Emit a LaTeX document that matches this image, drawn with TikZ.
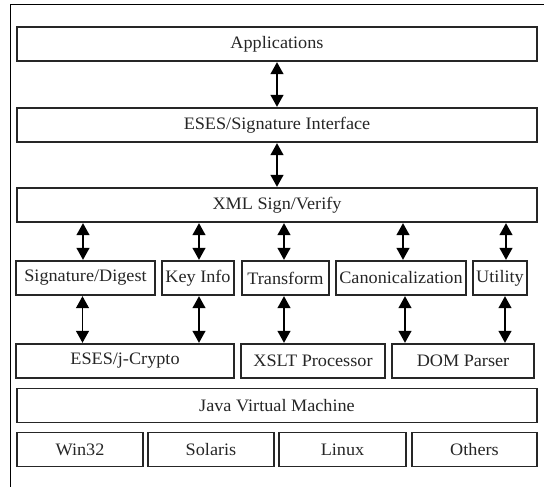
\documentclass[tikz,border=0pt]{standalone}
\usepackage{fontspec}
\setmainfont{Liberation Serif}[FakeStretch=1.04]
\usetikzlibrary{arrows.meta}
\tikzset{
  blk/.style={draw=black!85, line width=1.2pt, inner sep=0pt, minimum height=34pt,
    font=\fontsize{17.5}{20}\selectfont, text=black!85},
  dbl/.style={line width=1.3pt, draw=black,
    {Triangle[width=13pt,length=12pt]}-{Triangle[width=13pt,length=12pt]}, shorten <=0.6pt, shorten >=0.6pt},
  frame/.style={draw=black, line width=1pt}
}
\begin{document}
\begin{tikzpicture}[x=1pt,y=-1pt]
\useasboundingbox (0,0) rectangle (544,487);
\fill[white] (0,0) rectangle (544,487);
\draw[frame] (10.5,487) -- (10.5,4.5) -- (544,4.5);
% top layers
\node[blk, minimum width=520pt] (app)  at (277,44)  {Applications};
\node[blk, minimum width=520pt] (eses) at (277,125) {ESES/Signature Interface};
\node[blk, minimum width=520pt] (xml)  at (277,205) {XML Sign/Verify};
% second row
\node[blk, minimum width=139pt] (sig)   at (85.5,278)  {Signature/Digest};
\node[blk, minimum width=72pt]  (key)   at (198,278)   {Key Info};
\node[blk, minimum width=87pt]  (trans) at (285.5,278) {Transform};
\node[blk, minimum width=130pt] (canon) at (401,278)   {Canonicalization};
\node[blk, minimum width=54pt]  (util)  at (500,278)   {Utility};
% third row
\node[blk, minimum width=218pt] (cryp) at (125,361) {ESES/j-Crypto};
\node[blk, minimum width=144pt] (xslt) at (313,361) {XSLT Processor};
\node[blk, minimum width=142pt] (dom)  at (463,361) {DOM Parser};
% JVM and OS
\node[blk, minimum width=520pt] (jvm) at (277,405.5) {Java Virtual Machine};
\node[blk, minimum width=126pt] (win) at (80,449.5)    {Win32};
\node[blk, minimum width=126pt] (sol) at (211,449.5)   {Solaris};
\node[blk, minimum width=127pt] (lin) at (342.5,449.5) {Linux};
\node[blk, minimum width=125pt] (oth) at (474.5,449.5) {Others};
% connectors
\draw[dbl] (app.south) -- (eses.north);
\draw[dbl] (eses.south) -- (xml.north);
\draw[dbl] ([xshift=-2.5pt]sig.north |- xml.south) -- ([xshift=-2.5pt]sig.north);
\draw[dbl] ([xshift=1pt]key.north |- xml.south) -- ([xshift=1pt]key.north);
\draw[dbl] ([xshift=-1.5pt]trans.north |- xml.south) -- ([xshift=-1.5pt]trans.north);
\draw[dbl] ([xshift=2pt]canon.north |- xml.south) -- ([xshift=2pt]canon.north);
\draw[dbl] ([xshift=6pt]util.north |- xml.south) -- ([xshift=6pt]util.north);
\draw[dbl] ([xshift=-3pt]sig.south) -- ([xshift=-3pt]sig.south |- cryp.north);
\draw[dbl] ([xshift=1pt]key.south) -- ([xshift=1pt]key.south |- cryp.north);
\draw[dbl] ([xshift=-1.5pt]trans.south) -- ([xshift=-1.5pt]trans.south |- xslt.north);
\draw[dbl] ([xshift=4pt]canon.south) -- ([xshift=4pt]canon.south |- dom.north);
\draw[dbl] ([xshift=5pt]util.south) -- ([xshift=5pt]util.south |- dom.north);
\end{tikzpicture}
\end{document}
